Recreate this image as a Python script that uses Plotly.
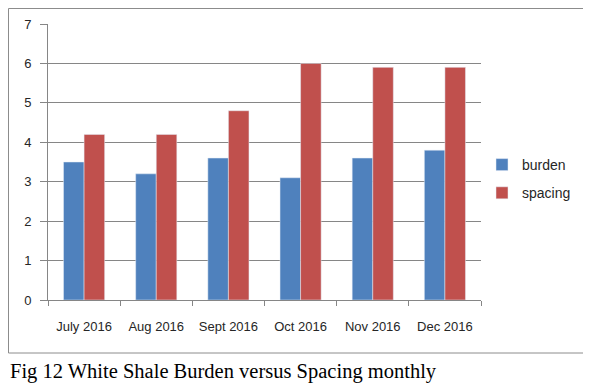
import plotly.graph_objects as go

months = ["July 2016", "Aug 2016", "Sept 2016", "Oct 2016", "Nov 2016", "Dec 2016"]
burden = [3.5, 3.2, 3.6, 3.1, 3.6, 3.8]
spacing = [4.2, 4.2, 4.8, 6.0, 5.9, 5.9]
y_ticks = [0, 1, 2, 3, 4, 5, 6, 7]

# the page body has an 8px margin, so figure pixel (0,0) sits at window (8,8)
OFF = 8
W, H = 591 - OFF, 386 - OFF
L, R, T, B = 48 - OFF, 481 - OFF, 24 - OFF, 300 - OFF

def px_x(p):
    return (p - OFF - L) / (R - L)

def px_y(p):
    return (B - (p - OFF)) / (B - T)

fig = go.Figure()
fig.add_trace(go.Bar(x=months, y=burden, name="burden", marker_color="#4F81BD", legendgroup="a"))
fig.add_trace(go.Bar(x=months, y=spacing, name="spacing", marker_color="#C0504D", legendgroup="b"))

axis_font = dict(family="Liberation Sans, Arial, sans-serif", size=13, color="#262626")

fig.update_layout(
    width=W, height=H,
    margin=dict(l=L, r=W - R, t=T, b=H - B, autoexpand=False),
    paper_bgcolor="white", plot_bgcolor="white",
    barmode="group", bargap=0.43, bargroupgap=0,
    showlegend=True,
    legend=dict(x=px_x(482), y=px_y(149), xanchor="left", yanchor="top",
                traceorder="grouped", tracegroupgap=7,
                font=dict(family="Liberation Sans, Arial, sans-serif", size=14, color="#262626"),
                itemwidth=30, bgcolor="rgba(0,0,0,0)"),
    xaxis=dict(showline=True, linecolor="#868686", linewidth=1, ticks="outside",
               tickson="boundaries", ticklen=5, tickcolor="#868686",
               tickfont=axis_font, showgrid=False, ticklabelstandoff=14),
    yaxis=dict(range=[0, 7], tickvals=y_ticks, showline=True, linecolor="#868686",
               linewidth=1, ticks="outside", ticklen=7, tickcolor="#868686",
               showgrid=True, gridcolor="#868686", gridwidth=1,
               tickfont=axis_font, zeroline=False, ticklabelstandoff=6),
    font=axis_font,
)

# outer chart border
fig.add_shape(type="rect", xref="paper", yref="paper",
              x0=px_x(8.5), x1=px_x(586.5), y0=px_y(353), y1=px_y(8.5),
              line=dict(color="#8C8C8C", width=1), fillcolor="rgba(0,0,0,0)", layer="below")

# caption
fig.add_annotation(text="Fig 12 White Shale Burden versus Spacing monthly",
                   xref="paper", yref="paper", x=px_x(8), y=px_y(371),
                   xanchor="left", yanchor="middle", showarrow=False,
                   font=dict(family="Liberation Serif, Times New Roman, serif", size=20.5, color="black"))

fig.write_html("out.html")
